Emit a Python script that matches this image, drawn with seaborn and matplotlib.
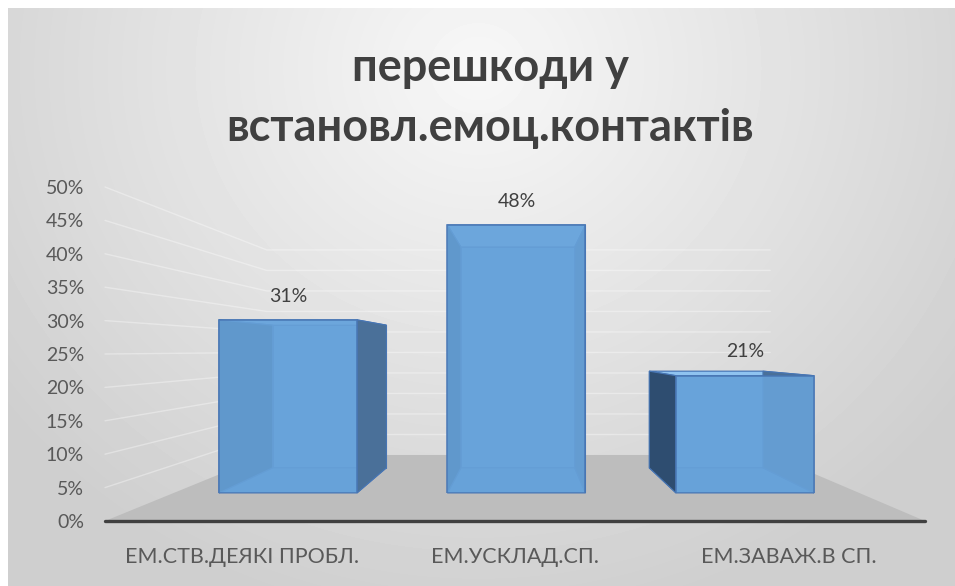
import numpy as np
import pandas as pd
import matplotlib.pyplot as plt
import seaborn as sns
from matplotlib.patches import Polygon
from matplotlib.lines import Line2D
from matplotlib.transforms import IdentityTransform

# data
categories = ['ЕМ.СТВ.ДЕЯКІ ПРОБЛ.', 'ЕМ.УСКЛАД.СП.', 'ЕМ.ЗАВАЖ.В СП.']
shares = [0.31, 0.48, 0.21]
share_labels = ['31%', '48%', '21%']
y_ticks = [0.0, 0.05, 0.10, 0.15, 0.20, 0.25, 0.30, 0.35, 0.40, 0.45, 0.50]
y_tick_labels = ['0%', '5%', '10%', '15%', '20%', '25%', '30%', '35%', '40%', '45%', '50%']
title = 'перешкоди у\nвстановл.емоц.контактів'

df = pd.DataFrame({'category': categories, 'share': shares})

sns.set_style('white')
plt.rcParams['font.family'] = ['Lato', 'Open Sans', 'DejaVu Sans']

W, H = 955, 586
fig = plt.figure(figsize=(W / 100, H / 100), dpi=100)
fig.patch.set_facecolor('white')


def box(x0, y_top, x1, y_bot):
    # pixel box (origin top-left) -> figure fraction
    return [x0 / W, 1 - y_bot / H, (x1 - x0) / W, (y_bot - y_top) / H]


# perspective: vanishing point (pixels, bottom-left origin) and depth factors
VP = np.array([524.0, H - 350.0])
S_WALL = 0.614     # back wall
S_FRONT = 0.836    # front faces of the bars
S_DEPTH = 0.824    # bar back face relative to its front face


def proj(p, s):
    return VP + s * (np.asarray(p, float) - VP)


# background gradient
bg = fig.add_axes(box(8, 8, W, H), zorder=0)
yy, xx = np.mgrid[0:H - 8, 0:W - 8]
r = np.sqrt(((xx - 470) / 600.0) ** 2 + ((yy - 60) / 560.0) ** 2)
bg.imshow(0.97 - 0.16 * np.clip(r, 0, 1), cmap='gray', vmin=0, vmax=1,
          aspect='auto', interpolation='bilinear')
bg.axis('off')

# main axes = front edge of the floor, carries the ticks
ax = fig.add_axes(box(105, 187, 925, 521), zorder=1)
ax.patch.set_alpha(0)
ax.set_xlim(-0.5, 2.5)
ax.set_ylim(0, 0.5)
ax.set_yticks(y_ticks)
ax.set_yticklabels(y_tick_labels)
ax.set_xticks(range(len(categories)))
ax.set_xticklabels(categories)
ax.tick_params(axis='y', length=0, pad=15, labelsize=14, labelcolor='#595959')
ax.tick_params(axis='x', length=0, pad=19, labelsize=15.5, labelcolor='#595959')
sns.despine(ax=ax, left=True, bottom=True)

td = ax.transData.transform
x0, x1 = ax.get_xlim()
# floor
fl = [td((x0, 0)), td((x1, 0)), proj(td((x1, 0)), S_WALL), proj(td((x0, 0)), S_WALL)]
ax.add_patch(Polygon(fl, closed=True, transform=IdentityTransform(),
                     facecolor='#bdbdbd', edgecolor='none', clip_on=False, zorder=1))
# gridlines on side and back walls
for t in y_ticks[1:]:
    a = td((x0, t))
    b = proj(a, S_WALL)
    c = proj(td((x1, t)), S_WALL)
    ax.add_line(Line2D([a[0], b[0], c[0]], [a[1], b[1], c[1]], transform=IdentityTransform(),
                       color='white', alpha=0.35, lw=1.0, clip_on=False, zorder=0.5))
ax.plot([x0, x1], [0, 0], color='#404040', lw=2.4, solid_capstyle='round',
        clip_on=False, zorder=2)

# bars axes = plane of the bars' front faces
p_lo = proj(td((x0, 0)), S_FRONT)
p_hi = proj(td((x1, 0.5)), S_FRONT)
axb = fig.add_axes([p_lo[0] / W, p_lo[1] / H, (p_hi[0] - p_lo[0]) / W, (p_hi[1] - p_lo[1]) / H],
                   zorder=2)
sns.barplot(data=df, x='category', y='share', ax=axb, width=0.604, color='#68a3da',
            saturation=1, edgecolor='#4876b4', linewidth=1.2, alpha=0.88, zorder=5)
axb.set_xlim(-0.5, 2.5)
axb.set_ylim(0, 0.5)
axb.axis('off')
axb.patch.set_alpha(0)

tb = axb.transData.transform
for bar in axb.patches:
    x, y, w, h = bar.get_x(), bar.get_y(), bar.get_width(), bar.get_height()
    fbl, fbr, ftr, ftl = [tb(p) for p in [(x, y), (x + w, y), (x + w, y + h), (x, y + h)]]
    bbl, bbr, btr, btl = [proj(p, S_DEPTH) for p in [fbl, fbr, ftr, ftl]]
    faces = [
        ([bbl, bbr, btr, btl], '#6ea9e0', 1),
        ([fbl, fbr, bbr, bbl], '#629cd2', 2),
        ([ftl, ftr, btr, btl], '#8fc3f0', 2),
        ([fbl, ftl, btl, bbl], '#2e4d70', 3),
        ([fbr, ftr, btr, bbr], '#4a7099', 3),
    ]
    for pts, col, z in faces:
        axb.add_patch(Polygon(pts, closed=True, transform=IdentityTransform(),
                              facecolor=col, edgecolor='#4876b4', lw=0.8,
                              clip_on=False, zorder=z))

axb.bar_label(axb.containers[0], labels=share_labels, padding=11, fontsize=14, color='#404040')

fig.text(490 / W, 1 - 98 / H, title, ha='center', va='center', fontsize=32.5,
         fontweight='bold', color='#404040', linespacing=1.55)

fig.savefig('out.png', dpi=100)
